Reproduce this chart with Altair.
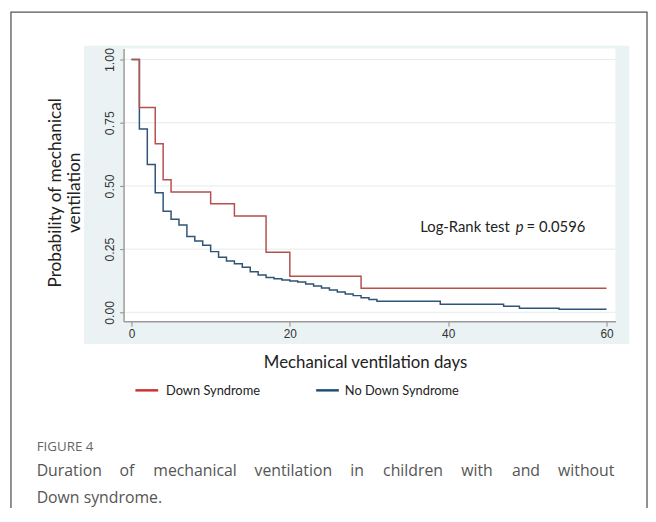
import altair as alt
import pandas as pd

# ---------------- data ----------------
ds_days = [0, 1, 3, 4, 5, 10, 13, 17, 20, 29, 60]
ds_surv = [1.00, 0.810, 0.667, 0.524, 0.476, 0.429, 0.381, 0.238, 0.143, 0.095, 0.095]

nds_days = [0, 1, 2, 3, 4, 5, 6, 7, 8, 9, 10, 11, 12, 13, 14, 15, 16, 17, 18, 19,
            20, 21, 22, 23, 24, 25, 26, 27, 28, 29, 30, 31, 39, 47, 49, 54, 60]
nds_surv = [1.00, 0.725, 0.585, 0.473, 0.400, 0.368, 0.345, 0.300, 0.282, 0.265,
            0.240, 0.218, 0.203, 0.192, 0.178, 0.160, 0.148, 0.138, 0.133, 0.128,
            0.124, 0.120, 0.112, 0.104, 0.096, 0.088, 0.080, 0.072, 0.066, 0.058,
            0.051, 0.044, 0.032, 0.024, 0.016, 0.012, 0.012]

x_ticks = [0, 20, 40, 60]
y_ticks = [0.0, 0.25, 0.5, 0.75, 1.0]
series_names = ["Down Syndrome", "No Down Syndrome"]

x_title = "Mechanical ventilation days"
y_title = ["Probability of mechanical", "ventilation"]
annot_pre, annot_p, annot_post = "Log-Rank test", "p", "= 0.0596"
fig_label = "FIGURE 4"
caption = ["Duration of mechanical ventilation in children with and without",
           "Down syndrome."]

W, H = 498, 276
RED, BLUE = "#b5504c", "#2f5476"
LRED, LBLUE = "#cc3333", "#1f4e79"
FONT = "Lato"
CAP_FONT = "Open Sans"
CAP_SIZE = 16

ds = pd.DataFrame({"day": ds_days, "surv": ds_surv, "group": series_names[0]})
nds = pd.DataFrame({"day": nds_days, "surv": nds_surv, "group": series_names[1]})

xscale = alt.Scale(domain=[-1.0, 61.12], nice=False, zero=False)
yscale = alt.Scale(domain=[-0.0352, 1.043], nice=False, zero=False)
xaxis = alt.Axis(values=x_ticks, title=None, grid=False, domainColor="#9a9a9a",
                 domainWidth=1.5, tickColor="#8a8a8a", tickSize=5, tickWidth=1,
                 labelFont="Liberation Sans", labelFontSize=12, labelColor="#333333",
                 labelPadding=3, zindex=1)
yaxis = alt.Axis(values=y_ticks, format=".2f", title=None, grid=False,
                 domainColor="#9a9a9a", domainWidth=1.5, tickColor="#8a8a8a",
                 tickSize=4, tickWidth=1, labelFont="Liberation Sans",
                 labelFontSize=12.5, labelColor="#333333", labelAngle=270,
                 labelAlign="center", labelBaseline="alphabetic", labelPadding=6,
                 zindex=1)

one = lambda t: alt.Data(values=[{"t": t}])

bg = alt.Chart(one("bg")).mark_rect(fill="#eaf2f3").encode(
    x=alt.value(-40), x2=alt.value(512), y=alt.value(-3), y2=alt.value(299))
frame = alt.Chart(one("frame")).mark_rect(fill="white", fillOpacity=0, stroke="#555555",
                                          strokeWidth=1.3).encode(
    x=alt.value(-114), x2=alt.value(530), y=alt.value(-37), y2=alt.value(700))
plotbg = alt.Chart(one("plot")).mark_rect(fill="white").encode(
    x=alt.value(0), x2=alt.value(W), y=alt.value(0), y2=alt.value(H))

grid = alt.Chart(pd.DataFrame({"v": y_ticks})).mark_rule(color="#e4eced", strokeWidth=1).encode(
    y=alt.Y("v:Q", scale=yscale, axis=yaxis), x=alt.value(0), x2=alt.value(W))

blue_line = alt.Chart(nds).mark_line(interpolate="step-after", color=BLUE, strokeWidth=1.5).encode(
    x=alt.X("day:Q", scale=xscale, axis=xaxis),
    y=alt.Y("surv:Q", scale=yscale, axis=yaxis))
red_line = alt.Chart(ds).mark_line(interpolate="step-after", color=RED, strokeWidth=1.5).encode(
    x=alt.X("day:Q", scale=xscale, axis=xaxis),
    y=alt.Y("surv:Q", scale=yscale, axis=yaxis))


def txt(t, x, y, size, align="left", baseline="alphabetic", font=FONT, color="#222222",
        style="normal", angle=0, line_height=None):
    kw = dict(align=align, baseline=baseline, font=font, fontSize=size, color=color,
              fontStyle=style)
    if angle:
        kw["angle"] = angle
    if line_height:
        kw["lineBreak"] = "\n"
        kw["lineHeight"] = line_height
    return alt.Chart(one(t)).mark_text(**kw).encode(
        text="t:N", x=alt.value(x), y=alt.value(y))


# justified first caption line: place words across the caption width
words = caption[0].split(" ")
em = {"Duration": 4.13, "of": 0.94, "mechanical": 5.33, "ventilation": 4.97, "in": 0.88,
      "children": 3.82, "with": 2.04, "and": 1.78, "without": 3.63}
scale_w = CAP_SIZE * 0.973
left, right = -88, 497
widths = [em.get(w, 0.55 * len(w)) * scale_w for w in words]
gap = (right - left - sum(widths)) / (len(words) - 1)
cap_layers = []
pos = left
for i, (w, wd) in enumerate(zip(words, widths)):
    if i == len(words) - 1:
        cap_layers.append(txt(w, right, 433, CAP_SIZE, align="right", font=CAP_FONT, color="#555555"))
    else:
        cap_layers.append(txt(w, round(pos, 1), 433, CAP_SIZE, font=CAP_FONT, color="#555555"))
    pos += wd + gap

texts = [
    txt(annot_pre, 391, 186, 15, align="right"),
    txt(annot_p, 401, 186, 15, align="center", style="italic"),
    txt(annot_post, 408, 186, 15),
    txt(x_title, 245, 323, 17, align="center"),
    txt("\n".join(y_title), -68, 146, 17.5, align="center", baseline="middle",
        angle=270, line_height=19),
    txt(series_names[0], 43, 351, 13),
    txt(series_names[1], 224, 351, 13),
    txt(fig_label, -88, 407, 13.5, font=CAP_FONT, color="#666666"),
    txt(caption[1], -88, 460, CAP_SIZE, font=CAP_FONT, color="#555555"),
] + cap_layers

leg_red = alt.Chart(one("lr")).mark_rule(color=LRED, strokeWidth=2.5).encode(
    x=alt.value(12), x2=alt.value(35), y=alt.value(346))
leg_blue = alt.Chart(one("lb")).mark_rule(color=LBLUE, strokeWidth=2.5).encode(
    x=alt.value(195), x2=alt.value(218), y=alt.value(346))

chart = alt.layer(bg, frame, plotbg, grid, blue_line, red_line, leg_red, leg_blue,
                  *texts).properties(
    width=W, height=H,
    autosize=alt.AutoSizeParams(type="none"),
    padding={"left": 117, "top": 38, "right": 33, "bottom": 186},
).configure_view(stroke=None).configure(background="white")

chart.save("out.html", embed_options={"renderer": "svg", "actions": False})
